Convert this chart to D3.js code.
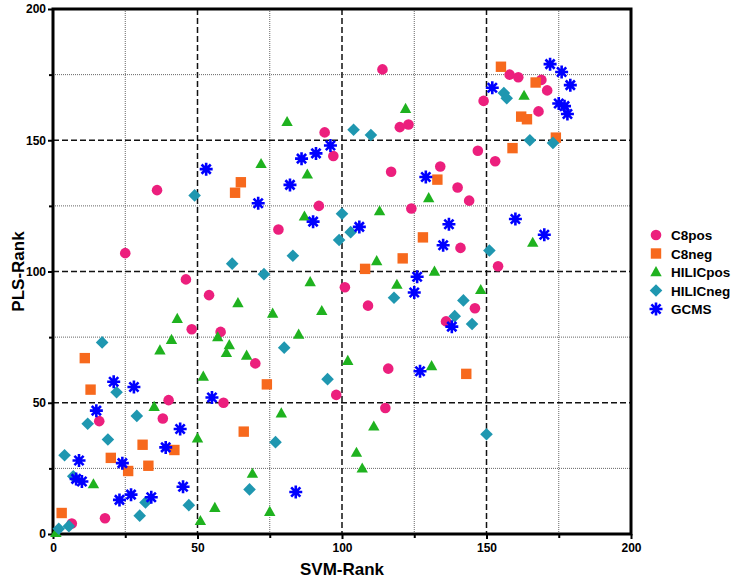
<!DOCTYPE html>
<html>
<head>
<meta charset="utf-8">
<script src="https://cdn.jsdelivr.net/npm/d3@7"></script>
<style>
body{margin:0;background:#fff;}
text{font-family:"Liberation Sans",Arial,sans-serif;font-weight:bold;}
</style>
</head>
<body>
<script>
// values, [SVM-Rank, PLS-Rank]
var c8pos = [[114,177],[94,153],[120,155],[123,156],[97,144],[117,138],[158,175],[161,174],[169,173],[171,169],[149,165],[168,161],[147,146],[153,142],[134,140],[140,132],[144,127],[141,109],[154,102],[146,86],[136,81],[92,125],[124,124],[78,116],[101,94],[109,87],[36,131],[25,107],[46,97],[54,91],[48,78],[58,77],[40,51],[59,50],[16,43],[38,44],[18,6],[6.5,4],[70,65],[98,53],[116,63],[115,48]];
var c8neg = [[155,178],[167,172],[162,159],[164,158],[174,151],[159,147],[133,135],[128,113],[121,105],[108,101],[65,134],[63,130],[11,67],[13,55],[31,34],[42,32],[20,29],[33,26],[26,24],[3,8],[74,57],[66,39],[143,61]];
var hilicpos = [[122,162],[81,157],[72,141],[88,137],[163,167],[130,128],[166,111],[132,100],[148,93],[87,121],[113,123],[112,104],[119,95],[89,96],[64,88],[76,84],[93,85],[85,76],[43,82],[41,74],[57,75],[37,70],[61,72],[60,69],[67,68],[52,60],[35,48.5],[50,36.5],[14,19],[56,10],[51,5],[1,0.5],[79,46],[102,66],[111,41],[105,31],[107,25],[69,23],[75,8.5],[131,64]];
var hilicneg = [[104,154],[110,152],[156,168],[157,166],[165,150],[173,149],[151,108],[142,89],[139,83],[145,80],[100,122],[103,115],[99,112],[83,106],[62,103],[73,99],[118,90],[80,71],[49,129],[17,73],[22,54],[12,42],[29,45],[19,36],[4,30],[7,22],[32,12],[47,11],[30,7],[5.5,3],[2,2],[95,59],[77,35],[68,17],[150,38]];
var gcms = [[53,139],[96,148],[91,145],[86,143],[129,136],[172,179],[176,176],[179,171],[152,170],[175,164],[177,163],[178,160],[160,120],[170,114],[137,118],[135,110],[126,98],[125,92],[138,79],[82,133],[71,126],[90,119],[106,117],[21,58],[28,56],[55,52],[15,47],[44,40],[39,33],[9,28],[24,27],[8,21],[10,20],[45,18],[23,13],[27,15],[34,14],[84,16],[127,62]];

var majorTicks = [0,50,100,150,200];
var minorTicks = [25,75,125,175];

var series = [
	{name:"C8pos", data:c8pos, color:"#ec1f7d", shape:"circle"},
	{name:"C8neg", data:c8neg, color:"#f7691d", shape:"square"},
	{name:"HILICpos", data:hilicpos, color:"#1fb21f", shape:"triangle"},
	{name:"HILICneg", data:hilicneg, color:"#1f97b0", shape:"diamond"},
	{name:"GCMS", data:gcms, color:"#0000ff", shape:"star"}
];

var W = 735, H = 579;
var m = {left:53, top:9, right:104, bottom:45};
var w = W - m.left - m.right, h = H - m.top - m.bottom;

var svg = d3.select("body").append("svg").attr("width", W).attr("height", H);
var g = svg.append("g").attr("transform","translate("+m.left+","+m.top+")");

var x = d3.scaleLinear().domain([0,200]).range([0,w]);
var y = d3.scaleLinear().domain([0,200]).range([h,0]);

// grid: dotted at 25s, dashed at 50s
minorTicks.forEach(function(t){
	g.append("line").attr("x1",x(t)).attr("x2",x(t)).attr("y1",0).attr("y2",h)
		.attr("stroke","#666").attr("stroke-width",1).attr("stroke-dasharray","1,1");
	g.append("line").attr("x1",0).attr("x2",w).attr("y1",y(t)).attr("y2",y(t))
		.attr("stroke","#666").attr("stroke-width",1).attr("stroke-dasharray","1,1");
});
[50,100,150].forEach(function(t){
	g.append("line").attr("x1",x(t)).attr("x2",x(t)).attr("y1",0).attr("y2",h)
		.attr("stroke","#111").attr("stroke-width",1.5).attr("stroke-dasharray","6,3");
	g.append("line").attr("x1",0).attr("x2",w).attr("y1",y(t)).attr("y2",y(t))
		.attr("stroke","#111").attr("stroke-width",1.5).attr("stroke-dasharray","6,3");
});

// frame
g.append("rect").attr("x",0).attr("y",0).attr("width",w).attr("height",h)
	.attr("fill","none").attr("stroke","#000").attr("stroke-width",3);

// axes
g.append("g").attr("transform","translate(0,"+h+")")
	.call(d3.axisBottom(x).tickValues(majorTicks).tickSize(5).tickPadding(4));
g.append("g")
	.call(d3.axisLeft(y).tickValues(majorTicks).tickSize(5).tickPadding(2));
g.append("g").attr("transform","translate(0,"+h+")")
	.call(d3.axisBottom(x).tickValues(minorTicks).tickSize(4).tickFormat(""));
g.append("g")
	.call(d3.axisLeft(y).tickValues(minorTicks).tickSize(4).tickFormat(""));
g.selectAll(".domain").remove();
g.selectAll(".tick line").attr("stroke","#000").attr("stroke-width",2);
g.selectAll(".tick text").attr("fill","#000").style("font-size","12px").style("font-weight","bold");

// points
var star = "M-6.5,0L6.5,0M0,-6.5L0,6.5M-4.6,-4.6L4.6,4.6M-4.6,4.6L4.6,-4.6";
function drawMark(sel, s){
	if(s.shape=="circle"){
		sel.append("circle").attr("r",5.3).attr("fill",s.color);
	} else if(s.shape=="square"){
		sel.append("rect").attr("x",-5.2).attr("y",-5.2).attr("width",10.4).attr("height",10.4).attr("fill",s.color);
	} else if(s.shape=="triangle"){
		sel.append("path").attr("d","M0,-6L5.7,4.2L-5.7,4.2Z").attr("fill",s.color);
	} else if(s.shape=="diamond"){
		sel.append("path").attr("d","M0,-6.3L6.3,0L0,6.3L-6.3,0Z").attr("fill",s.color);
	} else {
		sel.append("path").attr("d",star).attr("stroke",s.color).attr("stroke-width",2.6).attr("fill","none");
	}
}
series.forEach(function(s){
	g.append("g").selectAll("g").data(s.data).enter().append("g")
		.attr("transform",function(d){return "translate("+x(d[0])+","+y(d[1])+")";})
		.each(function(){ drawMark(d3.select(this), s); });
});

// axis titles
svg.append("text").attr("x",m.left+w/2).attr("y",575).attr("text-anchor","middle")
	.style("font-size","17px").text("SVM-Rank");
svg.append("text").attr("transform","translate(24,"+(m.top+h/2)+") rotate(-90)")
	.attr("text-anchor","middle").style("font-size","17px").text("PLS-Rank");

// legend
var leg = svg.append("g").attr("transform","translate(656,235)");
series.forEach(function(s,i){
	var row = leg.append("g").attr("transform","translate(0,"+(i*18.5)+")");
	drawMark(row, s);
	row.append("text").attr("x",15).attr("y",5).style("font-size","13.5px").text(s.name);
});
</script>
</body>
</html>
